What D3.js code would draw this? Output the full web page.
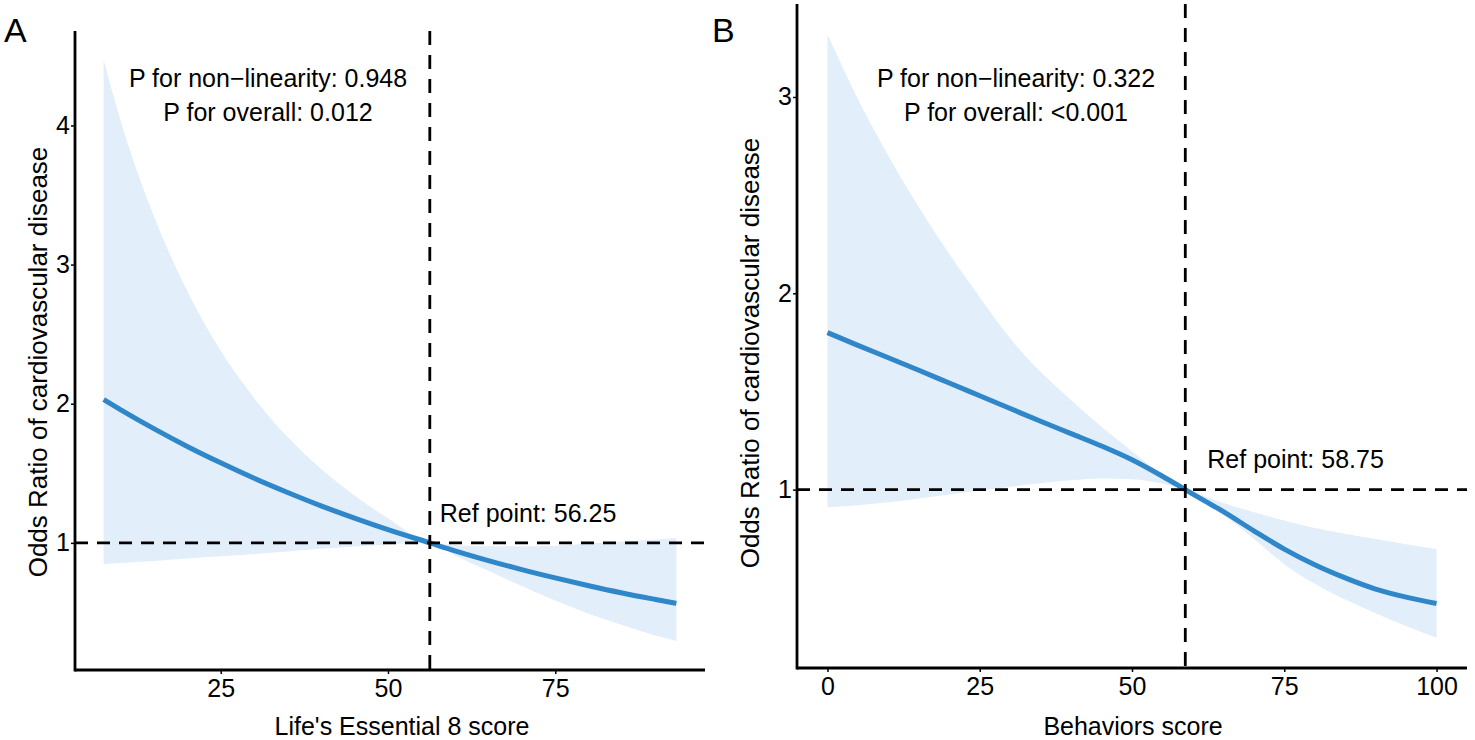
<!DOCTYPE html>
<html>
<head>
<meta charset="utf-8">
<script src="https://cdn.jsdelivr.net/npm/d3@7"></script>
<style>
  body { margin: 0; background: #fff; }
  text { font-family: "Liberation Sans", Arial, sans-serif; fill: #000; }
</style>
</head>
<body>
<div id="chart"></div>
<script>
// Panel A : Life's Essential 8 score
var le8X     = [7.5, 10, 15, 20, 25, 30, 35, 40, 45, 50, 56.25, 60, 65, 70, 75, 80, 85, 90, 93.1];
var le8OR    = [2.03, 1.958, 1.821, 1.693, 1.575, 1.464, 1.362, 1.266, 1.178, 1.095, 1.00, 0.943, 0.873, 0.808, 0.748, 0.692, 0.640, 0.593, 0.565];
var le8Lower = [0.846, 0.855, 0.87, 0.888, 0.904, 0.92, 0.938, 0.957, 0.974, 0.988, 1.00, 0.91, 0.80, 0.69, 0.585, 0.49, 0.41, 0.335, 0.295];
var le8Upper = [4.47, 4.04, 3.35, 2.81, 2.38, 2.04, 1.76, 1.53, 1.34, 1.176, 1.00, 0.985, 0.975, 0.975, 0.98, 0.995, 1.01, 1.025, 1.035];
var le8Ref = 56.25;
var le8XTicks = [25, 50, 75];
var le8YTicks = [1, 2, 3, 4];

// Panel B : Behaviors score
var behX     = [0, 5, 10, 15, 20, 25, 30, 35, 40, 45, 50, 55, 58.75, 62, 65, 70, 75, 80, 85, 90, 95, 100];
var behOR    = [1.80, 1.735, 1.672, 1.608, 1.543, 1.478, 1.413, 1.348, 1.285, 1.222, 1.152, 1.068, 1.00, 0.941, 0.888, 0.79, 0.697, 0.617, 0.55, 0.493, 0.452, 0.42];
var behLower = [0.91, 0.92, 0.935, 0.955, 0.975, 0.995, 1.015, 1.033, 1.048, 1.057, 1.053, 1.03, 1.00, 0.95, 0.875, 0.75, 0.62, 0.52, 0.44, 0.37, 0.305, 0.245];
var behUpper = [3.32, 2.99, 2.70, 2.44, 2.20, 1.98, 1.77, 1.60, 1.455, 1.32, 1.195, 1.075, 1.00, 0.965, 0.932, 0.885, 0.843, 0.805, 0.775, 0.748, 0.722, 0.698];
var behRef = 58.75;
var behXTicks = [0, 25, 50, 75, 100];
var behYTicks = [1, 2, 3];

var W = 1475, H = 740;
var svg = d3.select("#chart").append("svg")
    .attr("width", W)
    .attr("height", H);

// ggplot-like 5% expansion
function padded(lo, hi) {
  var d = (hi - lo) * 0.05;
  return [lo - d, hi + d];
}

function drawPanel(p) {
  var rows = p.xs.map(function(x, i) {
    return {x: x, or: p.or[i], lo: p.lower[i], hi: p.upper[i]};
  });

  var x = d3.scaleLinear()
      .domain(padded(d3.min(p.xs), d3.max(p.xs)))
      .range([p.left, p.right]);
  var y = d3.scaleLinear()
      .domain(padded(d3.min(p.lower), d3.max(p.upper)))
      .range([p.bottom, p.top]);

  var g = svg.append("g");

  // confidence band
  g.append("path")
    .datum(rows)
    .attr("fill", "#e2eef9")
    .attr("d", d3.area()
      .x(function(d) { return x(d.x); })
      .y0(function(d) { return y(d.lo); })
      .y1(function(d) { return y(d.hi); })
      .curve(d3.curveMonotoneX));

  // OR curve
  g.append("path")
    .datum(rows)
    .attr("fill", "none")
    .attr("stroke", "#2f86c8")
    .attr("stroke-width", 5)
    .attr("d", d3.line()
      .x(function(d) { return x(d.x); })
      .y(function(d) { return y(d.or); })
      .curve(d3.curveMonotoneX));

  // reference lines
  g.append("line")
    .attr("x1", p.left).attr("x2", p.right)
    .attr("y1", y(1)).attr("y2", y(1))
    .attr("stroke", "#000").attr("stroke-width", 2.8)
    .attr("stroke-dasharray", "13,9");
  g.append("line")
    .attr("x1", x(p.ref)).attr("x2", x(p.ref))
    .attr("y1", p.top).attr("y2", p.bottom)
    .attr("stroke", "#000").attr("stroke-width", 2.8)
    .attr("stroke-dasharray", "14,10");

  // axes
  var xAxis = g.append("g")
    .attr("transform", "translate(0," + p.bottom + ")")
    .call(d3.axisBottom(x).tickValues(p.xTicks).tickFormat(d3.format("d"))
      .tickSize(4).tickSizeOuter(0).tickPadding(5));
  var yAxis = g.append("g")
    .attr("transform", "translate(" + p.left + ",0)")
    .call(d3.axisLeft(y).tickValues(p.yTicks).tickFormat(d3.format("d"))
      .tickSize(4).tickSizeOuter(0).tickPadding(1));
  [xAxis, yAxis].forEach(function(a) {
    a.select(".domain").remove();
    a.selectAll(".tick line").attr("stroke", "#000").attr("stroke-width", 1.5);
    a.selectAll(".tick text").attr("font-size", 25).attr("fill", "#000")
      .style("font-family", '"Liberation Sans", Arial, sans-serif');
  });
  g.append("line")
    .attr("x1", p.left).attr("x2", p.right)
    .attr("y1", p.bottom).attr("y2", p.bottom)
    .attr("stroke", "#000").attr("stroke-width", 2.8);
  g.append("line")
    .attr("x1", p.left).attr("x2", p.left)
    .attr("y1", p.top).attr("y2", p.bottom + 1.4)
    .attr("stroke", "#000").attr("stroke-width", 2.8);

  // titles
  g.append("text")
    .attr("x", p.xTitleX).attr("y", 735)
    .attr("text-anchor", "middle")
    .attr("font-size", 25)
    .text(p.xTitle);
  g.append("text")
    .attr("transform", "translate(" + p.yTitleX + "," + p.yTitleY + ") rotate(-90)")
    .attr("text-anchor", "middle")
    .attr("font-size", 26)
    .text("Odds Ratio of cardiovascular disease");

  // panel letter
  g.append("text")
    .attr("x", p.letterX).attr("y", 42)
    .attr("font-size", 34)
    .text(p.letter);

  // p-values
  g.append("text")
    .attr("x", p.pX).attr("y", 87)
    .attr("text-anchor", "middle")
    .attr("font-size", 25)
    .text(p.pLine1);
  g.append("text")
    .attr("x", p.pX).attr("y", 121)
    .attr("text-anchor", "middle")
    .attr("font-size", 25)
    .text(p.pLine2);

  // ref label
  g.append("text")
    .attr("x", x(p.ref) + p.refDx).attr("y", y(1) - p.refDy)
    .attr("font-size", 25)
    .text("Ref point: " + p.ref);
}

drawPanel({
  xs: le8X, or: le8OR, lower: le8Lower, upper: le8Upper, ref: le8Ref,
  xTicks: le8XTicks, yTicks: le8YTicks,
  left: 75, right: 705, top: 31, bottom: 670,
  xTitle: "Life's Essential 8 score", xTitleX: 402,
  yTitleX: 47, yTitleY: 362,
  letter: "A", letterX: 4,
  pX: 268, pLine1: "P for non\u2212linearity: 0.948", pLine2: "P for overall: 0.012",
  refDx: 10, refDy: 21
});

drawPanel({
  xs: behX, or: behOR, lower: behLower, upper: behUpper, ref: behRef,
  xTicks: behXTicks, yTicks: behYTicks,
  left: 797, right: 1467, top: 4, bottom: 668,
  xTitle: "Behaviors score", xTitleX: 1133,
  yTitleX: 759, yTitleY: 353,
  letter: "B", letterX: 712,
  pX: 1016, pLine1: "P for non\u2212linearity: 0.322", pLine2: "P for overall: <0.001",
  refDx: 22, refDy: 22
});
</script>
</body>
</html>
